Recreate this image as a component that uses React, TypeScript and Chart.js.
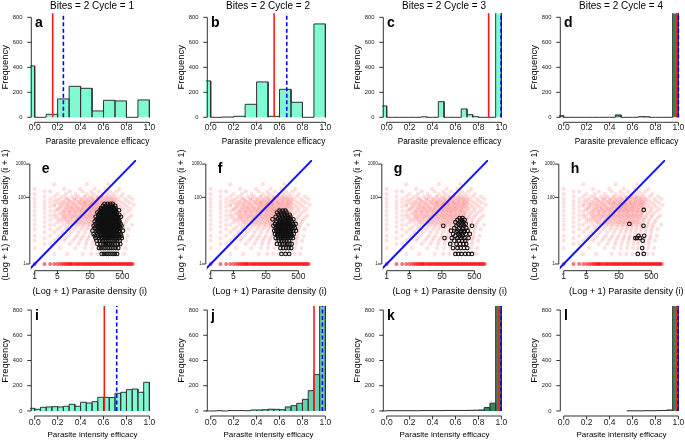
import React, { useEffect, useRef } from 'react';
import { Chart, registerables } from 'chart.js';

Chart.register(...registerables);

const FONT = '"Liberation Sans", Arial, Helvetica, sans-serif';

// ---------------- texts ----------------
const cycleTitles = ['Bites = 2 Cycle = 1', 'Bites = 2 Cycle = 2', 'Bites = 2 Cycle = 3', 'Bites = 2 Cycle = 4'];
const rowLetters = [['a', 'b', 'c', 'd'], ['e', 'f', 'g', 'h'], ['i', 'j', 'k', 'l']];
const prevalenceLabel = 'Parasite prevalence efficacy';
const intensityLabel = 'Parasite intensity efficacy';
const freqLabel = 'Frequency';
const densityXLabel = '(Log + 1) Parasite density (i)';
const densityYLabel = '(Log + 1) Parasite density (i + 1)';

// ---------------- ticks ----------------
const histXTicks = [0, 0.2, 0.4, 0.6, 0.8, 1.0];
const histYTicks = [0, 200, 400, 600, 800];
const densXTicks = [1, 5, 50, 500];
const densYTicks = [1, 100, 1000];

// ---------------- histogram bins ----------------
const edgesTenth = [-0.1, 0, 0.1, 0.2, 0.3, 0.4, 0.5, 0.6, 0.7, 0.8, 0.9, 1.0];
const edgesTwentieth = [-0.05, 0, 0.05, 0.1, 0.15, 0.2, 0.25, 0.3, 0.35, 0.4, 0.45, 0.5, 0.55, 0.6, 0.65, 0.7, 0.75, 0.8, 0.85, 0.9, 0.95, 1.0];
const edgesUpper = [0.55, 0.6, 0.65, 0.7, 0.75, 0.8, 0.85, 0.9, 0.95, 1.0];

// prevalence efficacy (row 1)
const countsA = [411, 0, 24, 147, 248, 232, 51, 136, 131, 0, 139];
const countsB = [291, 0, 2, 8, 104, 283, 8, 224, 120, 0, 747];
const countsC = [91, 0, 0, 0, 0, 0, 0, 4, 0, 0, 125, 0, 0, 0, 67, 21, 5, 0, 0, 0, 1200];
const countsD = [13, 0, 0, 0, 0, 0, 0, 0, 0, 0, 19, 0, 0, 0, 5, 4, 0, 0, 0, 0, 1470];
// intensity efficacy (row 3)
const countsI = [21, 13, 29, 32, 34, 32, 37, 53, 37, 69, 63, 74, 108, 108, 106, 140, 148, 169, 174, 148, 227];
const countsJ = [0, 0, 2, 0, 3, 3, 3, 2, 8, 8, 10, 14, 13, 10, 32, 42, 61, 92, 161, 288, 1000];
const countsK = [0, 2, 2, 2, 2, 2, 2, 3, 3, 3, 3, 4, 4, 4, 4, 5, 6, 8, 27, 62, 1300];
const countsL = [1, 1, 1, 2, 2, 3, 4, 8, 1400];

// red (solid) and blue (dashed) reference lines: a b c d i j k l
const histRedLines = [0.157, 0.553, 0.889, 0.983, 0.607, 0.901, 0.979, 0.987];
const histBlueLines = [0.25, 0.663, 0.997, 1.0, 0.715, 0.974, 0.997, 0.997];
const vLineSpan = [0, 1000];

// ---------------- density scatter ----------------
// pink background cloud: [y, x values]
const pinkCloud: [number, number[]][] = [
  [250, [4, 40, 180]],
  [180, [1, 8, 25, 70, 150, 400]],
  [150, [2, 3, 12, 30, 55, 95, 210, 330]],
  [125, [1, 5, 9, 18, 40, 65, 120, 170, 260, 520]],
  [105, [2, 4, 7, 14, 22, 35, 50, 80, 110, 150, 200, 300, 450, 800]],
  [98, [9, 19, 33, 58, 88, 125, 175, 245]],
  [90, [1, 3, 6, 10, 16, 27, 42, 60, 90, 130, 180, 240, 350, 600, 1000]],
  [84, [5, 11, 17, 26, 45, 70, 105, 160, 225, 310]],
  [78, [2, 4, 8, 12, 20, 30, 38, 55, 75, 100, 140, 200, 280, 420, 700]],
  [72, [7, 13, 22, 35, 52, 80, 115, 170, 250]],
  [68, [1, 3, 5, 9, 15, 24, 33, 46, 65, 85, 120, 160, 230, 320, 500, 850]],
  [64, [6, 10, 16, 26, 37, 58, 78, 110, 150, 215, 290]],
  [60, [2, 4, 7, 11, 18, 28, 40, 52, 70, 95, 135, 190, 260, 380, 600, 1100]],
  [56, [4, 8, 13, 19, 34, 48, 66, 88, 125, 175, 240]],
  [52, [1, 3, 6, 10, 14, 21, 31, 44, 60, 80, 110, 150, 210, 300, 440, 700]],
  [48, [6, 10, 15, 22, 30, 42, 58, 78, 105, 140, 200, 280]],
  [45, [2, 5, 8, 12, 17, 25, 36, 50, 68, 90, 125, 170, 240, 340, 520, 900]],
  [42, [5, 9, 14, 20, 28, 40, 55, 75, 100, 135, 190]],
  [39, [1, 3, 4, 7, 11, 16, 23, 33, 47, 63, 85, 115, 160, 220, 310, 460, 750]],
  [37, [8, 12, 18, 26, 37, 52, 70, 95, 130, 180, 250]],
  [34, [2, 6, 9, 13, 19, 28, 40, 55, 75, 100, 140, 195, 270, 390, 600]],
  [31, [4, 7, 11, 16, 23, 33, 46, 64, 88, 120, 165, 235]],
  [29, [1, 3, 5, 8, 12, 17, 25, 36, 50, 70, 95, 130, 180, 250, 350, 520, 950]],
  [27, [9, 14, 20, 28, 40, 56, 78, 105, 145, 200]],
  [25, [2, 4, 7, 10, 15, 22, 32, 45, 62, 88, 120, 165, 230, 330, 480, 800]],
  [23, [5, 8, 12, 18, 26, 37, 52, 72, 98, 135, 190, 270]],
  [21, [1, 3, 6, 9, 13, 20, 29, 42, 58, 80, 110, 150, 210, 300, 430, 680]],
  [19, [7, 10, 15, 23, 33, 48, 68, 92, 128, 175]],
  [18, [2, 5, 11, 18, 26, 38, 55, 75, 105, 145, 200, 280, 400, 620]],
  [16, [12, 20, 30, 44, 62, 85, 118, 165, 230]],
  [15, [1, 3, 4, 8, 14, 24, 35, 50, 70, 95, 135, 190, 270, 380, 560, 1000]],
  [13, [2, 6, 10, 19, 30, 45, 65, 90, 125, 175, 250, 360, 530]],
  [11, [1, 3, 5, 9, 16, 27, 40, 60, 85, 120, 170, 240, 340, 500, 780]],
  [9, [2, 4, 7, 13, 22, 35, 55, 80, 115, 160, 230, 330, 480]],
  [7, [1, 3, 6, 11, 20, 32, 50, 75, 110, 155, 220, 320, 470, 720]],
  [6, [2, 5, 9, 17, 28, 45, 70, 105, 150, 210, 300, 450]],
  [5, [1, 4, 8, 15, 25, 40, 65, 100, 145, 200, 290, 430, 650]],
  [4, [2, 3, 12, 22, 38, 60, 95, 140, 195, 280, 420]],
  [3, [1, 6, 18, 35, 58, 90, 135, 190, 270, 400, 620]],
  [2, [4, 10, 30, 55, 85, 130, 185, 260, 380, 560]],
];
// points with density (i + 1) = 1
const baseRowX = [1, 2, 3, 4, 5, 6, 7, 8, 9, 10, 11, 12, 13, 14, 16, 18, 20, 22, 24, 27, 30, 33, 36, 40, 44, 48, 53, 58, 64, 70, 77, 85, 93, 102, 112, 123, 135, 148, 162, 178, 195, 214, 235, 258, 283, 310, 340, 373, 410, 450, 494, 542, 595, 653, 717, 787, 864, 948, 1040];
const diagonalSpan = [0.5, 2000];

// black open circles: [y, x values]
const blackE: [number, number[]][] = [
  [2, [115, 135, 160, 185, 215, 250, 290, 340]],
  [3, [95, 110, 130, 150, 175, 200, 230, 265, 310, 370]],
  [4, [85, 105, 125, 145, 170, 195, 225, 260, 300, 360, 430]],
  [5, [80, 100, 120, 140, 160, 185, 215, 250, 290, 340, 410]],
  [6, [75, 95, 115, 135, 155, 180, 210, 245, 285, 330, 400, 480]],
  [7, [70, 90, 110, 130, 150, 175, 200, 235, 270, 320, 380, 460]],
  [8, [65, 85, 105, 125, 145, 170, 195, 225, 260, 305, 360, 440]],
  [9, [80, 100, 120, 140, 160, 185, 215, 250, 290, 340, 410]],
  [10, [60, 90, 110, 130, 150, 175, 205, 240, 280, 330, 390, 520]],
  [11, [80, 102, 122, 142, 165, 192, 225, 262, 310, 365]],
  [12, [70, 95, 115, 135, 160, 185, 215, 250, 295, 350, 430]],
  [13, [88, 110, 130, 150, 175, 205, 240, 282, 330, 395]],
  [14, [65, 85, 105, 125, 145, 170, 195, 230, 270, 320, 380, 470]],
  [15, [92, 112, 132, 155, 180, 208, 245, 288, 340]],
  [16, [75, 100, 120, 140, 165, 190, 220, 260, 305, 360, 440]],
  [17.5, [85, 108, 128, 150, 172, 200, 235, 275, 325, 390]],
  [19, [70, 90, 110, 130, 155, 180, 210, 245, 285, 340, 410]],
  [20.5, [95, 118, 138, 160, 188, 218, 255, 300, 355]],
  [22, [80, 100, 125, 145, 170, 200, 235, 275, 320, 380]],
  [24, [88, 108, 130, 152, 178, 208, 245, 288, 340]],
  [26, [75, 95, 115, 140, 165, 190, 225, 265, 310, 370, 450]],
  [28, [100, 120, 142, 168, 195, 228, 268, 315]],
  [30, [90, 110, 130, 155, 180, 210, 245, 290, 340, 400]],
  [32.5, [98, 118, 140, 165, 192, 225, 262, 308]],
  [35, [85, 105, 125, 150, 175, 205, 240, 280, 330]],
  [38, [110, 132, 158, 185, 218, 255, 298]],
  [41, [100, 120, 145, 170, 200, 235, 275, 320, 390]],
  [44, [115, 140, 168, 198, 232, 270]],
  [48, [110, 135, 160, 190, 225, 265, 310]],
  [56, [125, 150, 180, 215, 255, 300]],
  [64, [140, 175, 210, 250]],
];
const blackF: [number, number[]][] = [
  [2, [150, 200, 260]],
  [3, [140, 170, 210, 250, 300]],
  [4, [110, 135, 160, 190, 225, 265, 310]],
  [5, [125, 150, 180, 215, 255]],
  [6, [100, 120, 145, 170, 200, 240, 285, 340]],
  [7, [115, 140, 165, 195, 230, 270, 320]],
  [8, [95, 110, 130, 155, 180, 210, 250, 300, 360]],
  [9, [120, 145, 170, 200, 235, 280]],
  [10, [90, 105, 125, 150, 175, 205, 245, 290, 350, 420]],
  [11, [112, 135, 160, 188, 220, 260, 305]],
  [12, [100, 120, 140, 165, 195, 230, 270, 320, 390]],
  [13, [118, 142, 168, 198, 235, 278]],
  [14, [85, 110, 130, 155, 180, 215, 255, 300, 360]],
  [15, [125, 150, 176, 208, 245]],
  [16, [95, 120, 145, 170, 200, 240, 285, 340, 410]],
  [17.5, [135, 160, 188, 222, 262]],
  [19, [105, 130, 155, 185, 220, 260, 310]],
  [22, [80, 115, 140, 170, 205, 245, 290, 350]],
  [26, [100, 130, 160, 195, 235, 280]],
  [30, [120, 150, 185, 225, 270]],
  [35, [110, 140, 175, 215]],
  [40, [130, 165, 200]],
];
const blackG: [number, number[]][] = [
  [2, [130, 160, 200, 260, 330, 420]],
  [3, [110, 150, 190, 240, 300]],
  [4, [90, 140, 180, 230, 280]],
  [5, [120, 165, 210, 260]],
  [6, [60, 100, 150, 195, 250, 330]],
  [7, [130, 175, 220]],
  [8, [110, 160, 205, 270, 360]],
  [9, [140, 185, 240]],
  [10, [95, 150, 200, 250, 310]],
  [12, [120, 170, 220, 280]],
  [14, [55, 140, 190, 240, 420]],
  [16, [160, 210, 270]],
  [18, [130, 180, 230]],
  [21, [150, 200, 250]],
  [24, [175, 215]],
];
const blackH: [number, number[]][] = [
  [2, [190, 290]],
  [3, [260]],
  [5, [270]],
  [6, [160, 180, 220]],
  [7, [200, 300]],
  [14, [285]],
  [16, [105]],
  [42, [290]],
];

// ---------------- layout (pixels) ----------------
const COL_LEFT = [0, 176, 352, 529];
const COL_WIDTH = [176, 176, 177, 156];
const C0 = 34.7; // pixel of value 0 (hist) / 1 (log) inside each canvas
const UNIT = 114.7; // px per unit on histogram x
const DEC = 32.5; // px per decade on density x

const rowsToPoints = (rows: [number, number[]][]) =>
  rows.flatMap(([y, xs]) => xs.map((x) => ({ x, y })));

function outline(edges: number[], counts: number[]) {
  const pts: { x: number; y: number }[] = [{ x: edges[0], y: 0 }];
  counts.forEach((c, i) => {
    pts.push({ x: edges[i], y: c }, { x: edges[i + 1], y: c }, { x: edges[i + 1], y: 0 });
  });
  return pts;
}

const decor = {
  id: 'rdecor',
  afterDatasetsDraw(chart: any, _a: any, o: any) {
    const ctx = chart.ctx;
    const { left, right, top, bottom } = chart.chartArea;
    const xs = chart.scales.x;
    const ys = chart.scales.y;
    ctx.save();
    ctx.strokeStyle = '#333';
    ctx.lineWidth = 1;
    const xp = xs.ticks.map((t: any) => xs.getPixelForValue(t.value));
    const ay = bottom + o.axisDY;
    ctx.beginPath();
    ctx.moveTo(xp[0], ay);
    ctx.lineTo(xp[xp.length - 1], ay);
    xp.forEach((p: number) => {
      ctx.moveTo(p, ay);
      ctx.lineTo(p, ay + 3.5);
    });
    ctx.stroke();
    const yp = ys.ticks.map((t: any) => ys.getPixelForValue(t.value));
    const ax = left + o.axisDX;
    ctx.beginPath();
    ctx.moveTo(ax, yp[0]);
    ctx.lineTo(ax, yp[yp.length - 1]);
    yp.forEach((p: number) => {
      ctx.moveTo(ax, p);
      ctx.lineTo(ax - 4, p);
    });
    ctx.stroke();

    ctx.fillStyle = '#000';
    ctx.textAlign = 'center';
    ctx.textBaseline = 'middle';
    if (o.title) {
      ctx.font = `10px ${FONT}`;
      ctx.fillText(o.title, (left + right) / 2, 6.5);
    }
    ctx.font = `${o.xlabSize}px ${FONT}`;
    ctx.fillText(o.xlab, o.xlabX, o.xlabY);
    ctx.save();
    ctx.translate(5.5, (top + bottom) / 2);
    ctx.rotate(-Math.PI / 2);
    ctx.font = `${o.ylabSize}px ${FONT}`;
    ctx.fillText(o.ylab, 0, 0);
    ctx.restore();
    ctx.font = `bold 14px ${FONT}`;
    ctx.textAlign = 'left';
    ctx.textBaseline = 'alphabetic';
    ctx.fillText(o.letter, left + o.letterDX, top + o.letterDY);
    ctx.restore();
  },
};

function scaleBase(ticks: number[], fmt: (v: number) => string, size: number, pad: number) {
  return {
    afterBuildTicks: (s: any) => {
      s.ticks = ticks.map((v) => ({ value: v }));
    },
    ticks: {
      callback: (v: any) => fmt(Number(v)),
      font: { family: FONT, size, lineHeight: 1 },
      color: '#222',
      padding: pad,
      maxRotation: 0,
      minRotation: 0,
      autoSkip: false,
    },
    grid: { display: false, drawTicks: false },
    border: { display: false },
  };
}

type Spec = { left: number; top: number; width: number; height: number; config: any };

function histSpec(row: number, col: number, edges: number[], counts: number[], fill: string, lineIdx: number): Spec {
  const top = row === 0 ? 0 : 295;
  const height = row === 0 ? 150 : 145;
  const areaTop = row === 0 ? 13.3 : 11;
  const areaBottom = row === 0 ? 121.3 : 120;
  const width = COL_WIDTH[col];
  const areaLeft = C0 - 0.04 * UNIT;
  const areaRight = C0 + 1.04 * UNIT;
  const xH = height - areaBottom;
  const config = {
    type: 'line',
    data: {
      datasets: [
        {
          data: outline(edges, counts),
          fill: 'origin',
          backgroundColor: fill,
          borderColor: '#333',
          borderWidth: 1,
          pointRadius: 0,
          tension: 0,
          borderJoinStyle: 'miter',
          order: 3,
        },
        {
          data: vLineSpan.map((y) => ({ x: histRedLines[lineIdx], y })),
          borderColor: '#ff1a1a',
          borderWidth: 1.6,
          pointRadius: 0,
          fill: false,
          order: 2,
        },
        {
          data: vLineSpan.map((y) => ({ x: histBlueLines[lineIdx], y })),
          borderColor: '#0000ff',
          borderWidth: 1.6,
          borderDash: [4, 2.5],
          pointRadius: 0,
          fill: false,
          order: 1,
        },
      ],
    },
    options: {
      responsive: false,
      animation: false,
      events: [],
      layout: { padding: { left: 0, top: areaTop, right: width - areaRight, bottom: 0 } },
      scales: {
        x: {
          type: 'linear',
          min: -0.04,
          max: 1.04,
          ...scaleBase(histXTicks, (v) => v.toFixed(1), 8.5, row === 0 ? 2.25 : 3.05),
          afterFit: (s: any) => {
            s.height = xH;
            s.paddingLeft = 0;
            s.paddingRight = 0;
          },
        },
        y: {
          type: 'linear',
          min: -32,
          max: 832,
          ...scaleBase(histYTicks, (v) => String(v), 5.8, 7.6),
          afterFit: (s: any) => {
            s.width = areaLeft;
            s.paddingTop = 0;
            s.paddingBottom = 0;
          },
        },
      },
      plugins: {
        legend: { display: false },
        tooltip: { enabled: false },
        rdecor: {
          title: row === 0 ? cycleTitles[col] : '',
          xlab: row === 0 ? prevalenceLabel : intensityLabel,
          xlabSize: row === 0 ? 8.3 : 8.0,
          xlabX: row === 0 ? 97.5 : 92.5,
          xlabY: row === 0 ? 142 : 139.3,
          ylab: freqLabel,
          ylabSize: 9.4,
          letter: rowLetters[row === 0 ? 0 : 2][col],
          letterDX: 5,
          letterDY: row === 0 ? 13.4 : 14,
          axisDX: 1.2,
          axisDY: 1,
        },
      },
    },
    plugins: [decor],
  };
  return { left: COL_LEFT[col], top, width, height, config };
}

const densXLabelX = [89.8, 93.5, 97.7, 97.3];

function densitySpec(col: number, black: [number, number[]][]): Spec {
  const top = 140;
  const height = 160;
  const width = COL_WIDTH[col];
  const areaLeft = C0 - 0.12 * DEC;
  const areaRight = C0 + 3.12 * DEC;
  const config = {
    type: 'scatter',
    data: {
      datasets: [
        {
          data: rowsToPoints(black),
          pointRadius: 1.8,
          pointBorderWidth: 1.1,
          pointBorderColor: '#111',
          pointBackgroundColor: 'rgba(0,0,0,0)',
          order: 1,
        },
        {
          data: diagonalSpan.map((v) => ({ x: v, y: v })),
          showLine: true,
          borderColor: '#1414ff',
          borderWidth: 2,
          pointRadius: 0,
          order: 2,
        },
        {
          data: baseRowX.map((x) => ({ x, y: 1 })),
          pointRadius: 2,
          pointBorderWidth: 0,
          pointBackgroundColor: 'rgba(255,0,0,0.55)',
          order: 3,
        },
        {
          data: rowsToPoints(pinkCloud),
          pointRadius: 2.1,
          pointBorderWidth: 0,
          pointBackgroundColor: 'rgba(255,50,50,0.15)',
          order: 4,
        },
      ],
    },
    options: {
      responsive: false,
      animation: false,
      events: [],
      layout: { padding: { left: 0, top: 20, right: width - areaRight, bottom: 0 } },
      scales: {
        x: {
          type: 'logarithmic',
          min: 0.7586,
          max: 1318,
          ...scaleBase(densXTicks, (v) => String(v), 8.5, 2.45),
          afterFit: (s: any) => {
            s.height = 30;
            s.paddingLeft = 0;
            s.paddingRight = 0;
          },
        },
        y: {
          type: 'logarithmic',
          min: 0.66,
          max: 1327,
          ...scaleBase(densYTicks, (v) => String(v), 4.5, 5),
          afterFit: (s: any) => {
            s.width = areaLeft;
            s.paddingTop = 0;
            s.paddingBottom = 0;
          },
        },
      },
      plugins: {
        legend: { display: false },
        tooltip: { enabled: false },
        rdecor: {
          title: '',
          xlab: densityXLabel,
          xlabSize: 9.1,
          xlabX: densXLabelX[col],
          xlabY: 151.7,
          ylab: densityYLabel,
          ylabSize: 9.2,
          letter: rowLetters[1][col],
          letterDX: 11,
          letterDY: 12.7,
          axisDX: -1,
          axisDY: 0.7,
        },
      },
    },
    plugins: [decor],
  };
  return { left: COL_LEFT[col], top, width, height, config };
}

const AQUA = '#7FFAD2';
const MEDAQUA = '#66D1AC';
const SEAGREEN = '#2E8B57';

const specs: Spec[] = [
  histSpec(0, 0, edgesTenth, countsA, AQUA, 0),
  histSpec(0, 1, edgesTenth, countsB, AQUA, 1),
  histSpec(0, 2, edgesTwentieth, countsC, AQUA, 2),
  histSpec(0, 3, edgesTwentieth, countsD, SEAGREEN, 3),
  densitySpec(0, blackE),
  densitySpec(1, blackF),
  densitySpec(2, blackG),
  densitySpec(3, blackH),
  histSpec(2, 0, edgesTwentieth, countsI, AQUA, 4),
  histSpec(2, 1, edgesTwentieth, countsJ, MEDAQUA, 5),
  histSpec(2, 2, edgesTwentieth, countsK, SEAGREEN, 6),
  histSpec(2, 3, edgesUpper, countsL, SEAGREEN, 7),
];

function Panel({ spec }: { spec: Spec }) {
  const ref = useRef<HTMLCanvasElement>(null);
  useEffect(() => {
    const chart = new Chart(ref.current as HTMLCanvasElement, spec.config);
    return () => chart.destroy();
  }, [spec]);
  return (
    <canvas
      ref={ref}
      width={spec.width}
      height={spec.height}
      style={{ position: 'absolute', left: spec.left, top: spec.top, width: spec.width, height: spec.height }}
    />
  );
}

export default function App() {
  return (
    <div style={{ position: 'absolute', left: 0, top: 0, width: 685, height: 440, background: '#fff', overflow: 'hidden' }}>
      {specs.map((s, i) => (
        <Panel key={i} spec={s} />
      ))}
    </div>
  );
}
